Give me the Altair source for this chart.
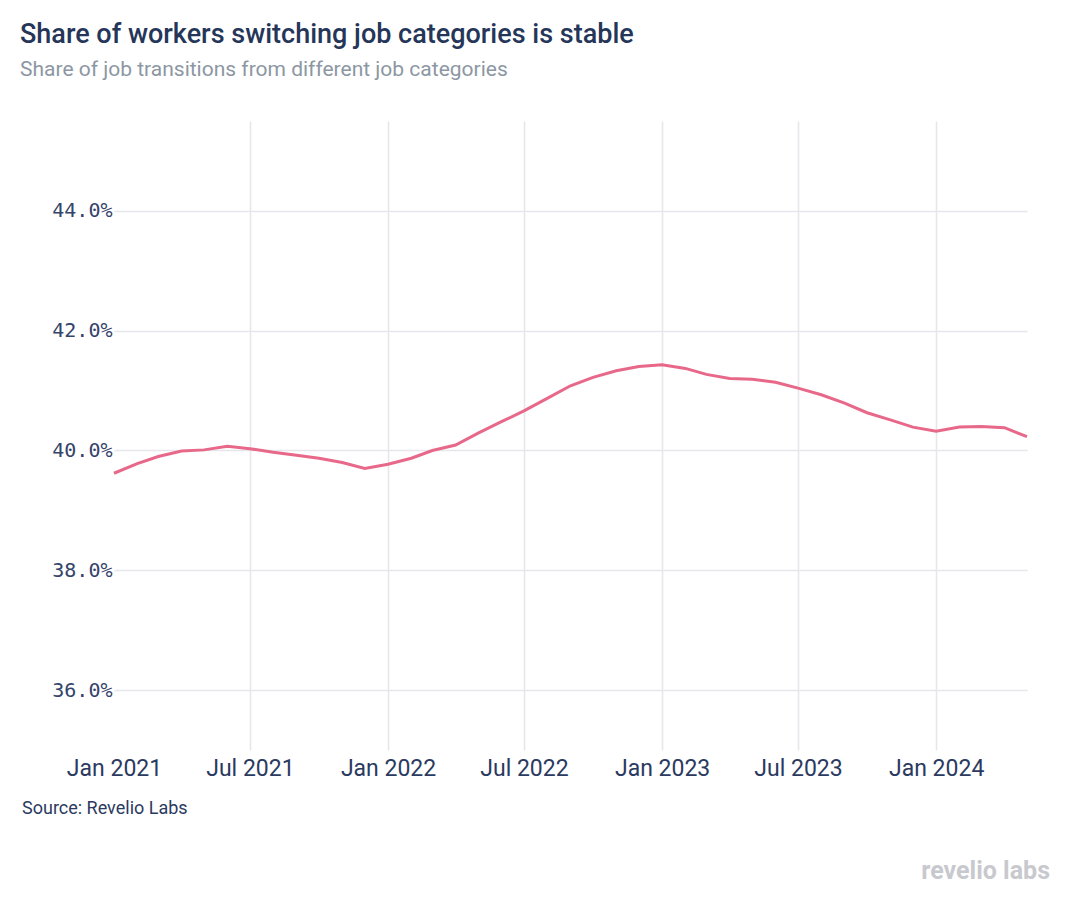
import altair as alt
import pandas as pd

# ---- data ----
months = pd.date_range("2021-01-01", "2024-05-01", freq="MS").strftime("%Y-%m-%d").tolist()
share_pct = [
    39.62, 39.78, 39.90, 39.99, 40.01, 40.07, 40.03, 39.97, 39.92, 39.87, 39.80, 39.70,  # 2021
    39.77, 39.87, 40.00, 40.09, 40.29, 40.48, 40.66, 40.87, 41.08, 41.22, 41.33, 41.40,  # 2022
    41.43, 41.37, 41.27, 41.20, 41.19, 41.14, 41.04, 40.93, 40.79, 40.63, 40.51, 40.39,  # 2023
    40.32, 40.39, 40.40, 40.38, 40.23,                                                  # 2024
]
y_ticks = [36, 38, 40, 42, 44]
x_tick_dates = [(2021, 1), (2021, 7), (2022, 1), (2022, 7), (2023, 1), (2023, 7), (2024, 1)]

title_text = "Share of workers switching job categories is stable"
subtitle_text = "Share of job transitions from different job categories"
source_text = ["Source: Revelio Labs"]
logo_text = ["revelio labs"]

df = pd.DataFrame({"month": months, "share": share_pct})

NAVY = "#2b3a60"
GRID = "#e6e6ec"
LINE = "#e8688a"

x_axis = alt.Axis(
    values=[alt.DateTime(year=y, month=m, date=1) for y, m in x_tick_dates],
    format="%b %Y",
    title=None,
    domain=False,
    ticks=False,
    grid=True,
    gridColor=GRID,
    gridWidth=1.6,
    gridOpacity={"condition": {"test": "year(datum.value) == 2021 && month(datum.value) == 0", "value": 0}, "value": 1},
    labelFont="Roboto",
    labelFontSize=23,
    labelColor=NAVY,
    labelPadding=7,
    labelFlush=False,
)

y_axis = alt.Axis(
    values=y_ticks,
    labelExpr="format(datum.value, '.1f') + '%'",
    title=None,
    domain=False,
    ticks=False,
    grid=True,
    gridColor=GRID,
    gridWidth=1.6,
    labelFont="DejaVu Sans Mono",
    labelFontSize=20,
    labelColor="#34446a",
    labelPadding=2,
)

line = alt.Chart(df).mark_line(color=LINE, strokeWidth=3).encode(
    x=alt.X("month:T", axis=x_axis,
            scale=alt.Scale(domain=[alt.DateTime(year=2021, month=1, date=1),
                                    alt.DateTime(year=2024, month=5, date=1)])),
    y=alt.Y("share:Q", axis=y_axis, scale=alt.Scale(domain=[35, 45.5], nice=False, zero=False)),
)

source = alt.Chart(pd.DataFrame({"t": source_text})).mark_text(
    align="left", baseline="alphabetic", font="Roboto", fontSize=18, color=NAVY
).encode(text="t:N", x=alt.value(-92), y=alt.value(693))

logo = alt.Chart(pd.DataFrame({"t": logo_text})).mark_text(
    align="right", baseline="alphabetic", font="Roboto", fontSize=25, fontWeight="bold", color="#c8c9ce"
).encode(text="t:N", x=alt.value(936), y=alt.value(758))

chart = alt.layer(line, source, logo).properties(
    width=913,
    height=629,
    background="white",
    autosize=alt.AutoSizeParams(type="none"),
    padding={"left": 106, "top": 113, "right": 36, "bottom": 142},
    title=alt.Title(
        text=title_text,
        subtitle=subtitle_text,
        anchor="start",
        frame="group",
        dx=-94,
        offset=40,
        font="Roboto",
        fontSize=27,
        fontWeight=500,
        color="#253659",
        subtitleFont="Roboto",
        subtitleFontSize=21,
        subtitleColor="#8c97a3",
        subtitlePadding=10,
    ),
).configure_view(strokeWidth=0)

chart.save("out.html", embed_options={"renderer": "svg", "actions": False})
